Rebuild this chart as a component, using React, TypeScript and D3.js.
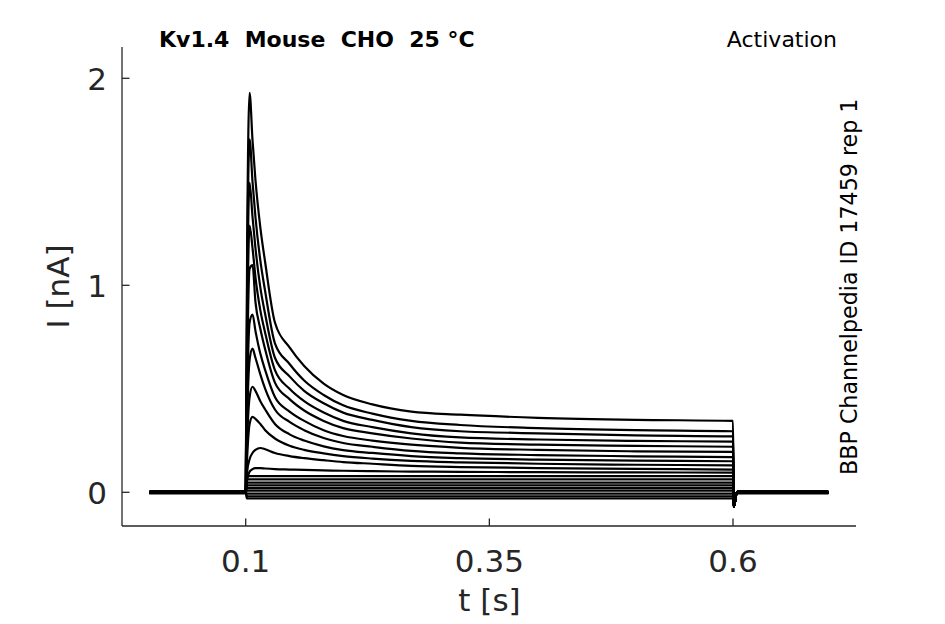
import * as d3 from 'd3';

// time samples (s) shared by the activation traces
const times = [0.001, 0.1, 0.1015, 0.104, 0.107, 0.11, 0.115, 0.12, 0.13, 0.145, 0.16, 0.18, 0.2, 0.23, 0.27, 0.32, 0.4, 0.5, 0.6];

// currents (nA) at those times, one array per voltage step
const trace1 = [0, 0, 1.2, 1.93, 1.7, 1.51, 1.28, 1.11, 0.82, 0.7, 0.61, 0.525, 0.47, 0.425, 0.39, 0.375, 0.36, 0.35, 0.345];
const trace2 = [0, 0, 1.05, 1.705, 1.5, 1.33, 1.12, 0.97, 0.72, 0.62, 0.54, 0.47, 0.42, 0.38, 0.345, 0.325, 0.31, 0.3, 0.295];
const trace3 = [0, 0, 0.9, 1.495, 1.33, 1.18, 0.99, 0.86, 0.65, 0.56, 0.49, 0.43, 0.385, 0.35, 0.315, 0.295, 0.285, 0.275, 0.27];
const trace4 = [0, 0, 0.75, 1.288, 1.18, 1.04, 0.88, 0.77, 0.59, 0.5, 0.44, 0.385, 0.345, 0.315, 0.285, 0.265, 0.255, 0.248, 0.245];
const trace5 = [0, 0, 0.6, 1.08, 1.097, 0.92, 0.79, 0.69, 0.53, 0.45, 0.395, 0.345, 0.31, 0.285, 0.26, 0.24, 0.23, 0.224, 0.22];
const trace6 = [0, 0, 0.45, 0.82, 0.859, 0.78, 0.67, 0.59, 0.46, 0.39, 0.345, 0.3, 0.272, 0.25, 0.23, 0.215, 0.205, 0.198, 0.195];
const trace7 = [0, 0, 0.35, 0.64, 0.694, 0.65, 0.57, 0.5, 0.4, 0.34, 0.3, 0.262, 0.238, 0.22, 0.2, 0.188, 0.18, 0.174, 0.17];
const trace8 = [0, 0, 0.25, 0.46, 0.51, 0.49, 0.44, 0.4, 0.33, 0.28, 0.25, 0.222, 0.204, 0.19, 0.175, 0.165, 0.158, 0.153, 0.15];
const trace9 = [0, 0, 0.17, 0.33, 0.364, 0.355, 0.33, 0.3, 0.26, 0.225, 0.205, 0.188, 0.175, 0.163, 0.152, 0.145, 0.138, 0.133, 0.13];
const trace10 = [0, 0, 0.1, 0.16, 0.19, 0.205, 0.214, 0.208, 0.19, 0.175, 0.165, 0.155, 0.146, 0.138, 0.128, 0.122, 0.117, 0.113, 0.11];
const trace11 = [0, 0, 0.06, 0.1, 0.112, 0.117, 0.117, 0.115, 0.112, 0.11, 0.108, 0.106, 0.104, 0.102, 0.1, 0.099, 0.097, 0.096, 0.095];
const bigTraces = [trace1, trace2, trace3, trace4, trace5, trace6, trace7, trace8, trace9, trace10, trace11];

// small, nearly flat traces near the baseline
const smallTimes = [0.001, 0.1, 0.1012, 0.6];
const smallLevels = [0.078, 0.062, 0.047, 0.033, 0.02, 0.008, -0.006, -0.02, -0.03];

// after the step: brief negative dip then baseline
const tailTimes = [0.6008, 0.604, 0.698];
const tailValues = [-0.07, 0, 0];

const xTicks = [0.1, 0.35, 0.6];
const yTicks = [0, 1, 2];

const W = 945;
const H = 624;
const axisColor = '#262626';
const font = 'DejaVu Sans, sans-serif';

export default function App() {
  const x = d3.scaleLinear().domain([0.1, 0.6]).range([245.7, 733]);
  const y = d3.scaleLinear().domain([0, 2]).range([492.3, 78.3]);
  const left = 122;
  const right = 856;
  const top = 47;
  const bottom = 526;

  const line = d3
    .line<[number, number]>()
    .x((d) => x(d[0]))
    .y((d) => y(d[1]))
    .curve(d3.curveMonotoneX);

  const tail: [number, number][] = tailTimes.map((t, i) => [t, tailValues[i]]);

  const bigPaths = bigTraces.map((vals) => {
    const pts: [number, number][] = times.map((t, i) => [t, vals[i]]);
    return line([...pts, ...tail]) || '';
  });
  const smallPaths = smallLevels.map((lvl) => {
    const vals = [0, 0, lvl, lvl];
    const pts: [number, number][] = smallTimes.map((t, i) => [t, vals[i]]);
    return line([...pts, ...tail]) || '';
  });
  const preBase = line([[0.001, 0], [0.1, 0]]) || '';
  const postBase = line([[0.604, 0], [0.698, 0]]) || '';

  return (
    <svg width={W} height={H} style={{ position: 'absolute', left: 0, top: 0, background: '#fff' }}>
      <rect width={W} height={H} fill="#fff" />
      {/* axes */}
      <g stroke={axisColor} strokeWidth={1.3} fill="none">
        <line x1={left} x2={left} y1={top} y2={bottom} />
        <line x1={left} x2={right} y1={bottom} y2={bottom} />
        {yTicks.map((t) => (
          <line key={'yt' + t} x1={left} x2={left + 7.5} y1={y(t)} y2={y(t)} />
        ))}
        {xTicks.map((t) => (
          <line key={'xt' + t} x1={x(t)} x2={x(t)} y1={bottom} y2={bottom - 7.5} />
        ))}
      </g>
      <g fontFamily={font} fontSize={31} fill={axisColor}>
        {yTicks.map((t) => (
          <text key={'yl' + t} x={107} y={y(t) + 11.3} textAnchor="end">
            {t}
          </text>
        ))}
        {xTicks.map((t) => (
          <text key={'xl' + t} x={x(t)} y={571.5} textAnchor="middle">
            {t}
          </text>
        ))}
        <text x={(left + right) / 2 + 0.5} y={611} textAnchor="middle">
          t [s]
        </text>
        <text transform={`translate(69,${(top + bottom) / 2}) rotate(-90)`} textAnchor="middle">
          I [nA]
        </text>
      </g>
      {/* traces */}
      <g fill="none" stroke="#000" strokeWidth={2.2} strokeLinejoin="round">
        {smallPaths.map((d, i) => (
          <path key={'s' + i} d={d} />
        ))}
        {bigPaths.map((d, i) => (
          <path key={'b' + i} d={d} />
        ))}
        <path d={preBase} strokeWidth={4.5} />
        <path d={postBase} strokeWidth={4.5} />
      </g>
      {/* annotations */}
      <text x={159} y={46.5} fontFamily={font} fontSize={22} fontWeight="bold" fill="#000" style={{ whiteSpace: 'pre' }}>
        {'Kv1.4  Mouse  CHO  25 °C'}
      </text>
      <text x={837} y={46.5} fontFamily={font} fontSize={22} textAnchor="end" fill="#000">
        Activation
      </text>
      <text
        transform="translate(857,475) rotate(-90)"
        fontFamily={font}
        fontSize={22.2}
        fill="#000"
      >
        BBP Channelpedia ID 17459 rep 1
      </text>
    </svg>
  );
}
